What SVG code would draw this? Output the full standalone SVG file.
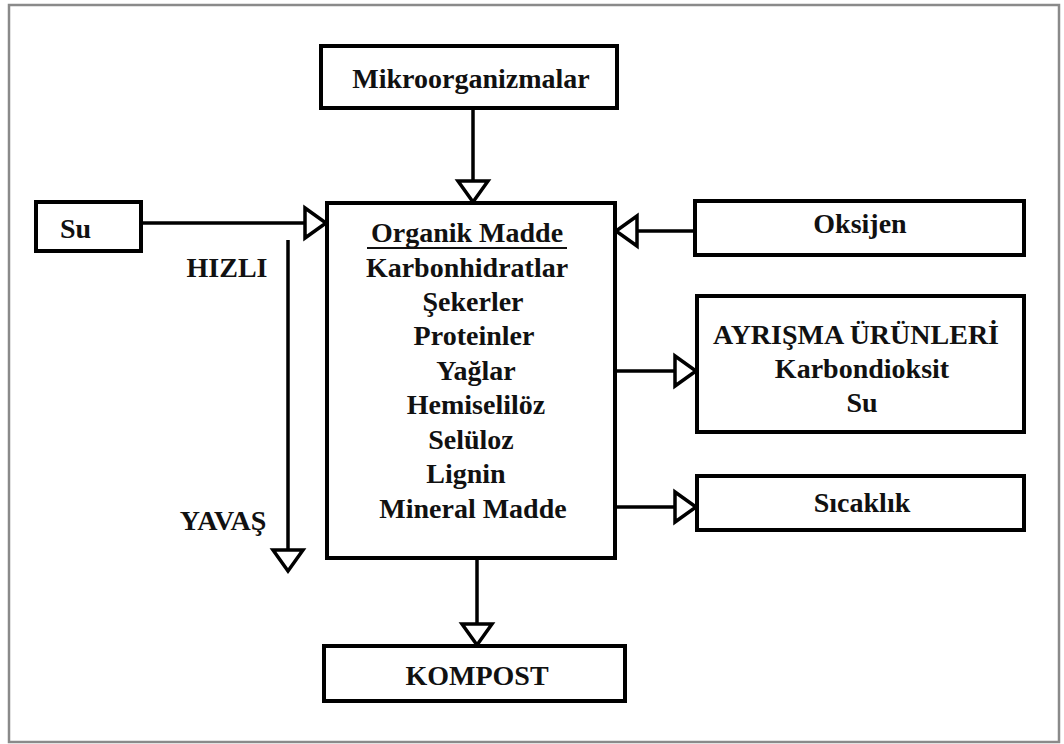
<svg xmlns="http://www.w3.org/2000/svg" width="1064" height="744" viewBox="0 0 1064 744">
<style>
.box{fill:#fff;stroke:#000;stroke-width:4}
.frame{fill:#fff;stroke:#8a8a8a;stroke-width:2.5}
.t{font-family:'Liberation Serif','Times New Roman','DejaVu Serif',serif;font-weight:700;font-size:28px;fill:#111;text-anchor:middle}
.ln{fill:none;stroke:#000;stroke-width:3.5}
</style>
<defs>
<marker id="ah" viewBox="-4 -20 30 40" markerWidth="30" markerHeight="40" markerUnits="userSpaceOnUse" refX="20" refY="0" orient="auto">
<path d="M0,-15 L21,0 L0,15 Z" fill="#fff" stroke="#000" stroke-width="3.5"/>
</marker>
</defs>
<rect class="frame" x="9" y="5" width="1050" height="737"/>
<g id="connectors">
<line class="ln" x1="141" y1="223" x2="325" y2="223" marker-end="url(#ah)"/>
<line class="ln" x1="473" y1="108" x2="473" y2="201" marker-end="url(#ah)"/>
<line class="ln" x1="695" y1="231" x2="617" y2="231" marker-end="url(#ah)"/>
<line class="ln" x1="615" y1="371" x2="695" y2="371" marker-end="url(#ah)"/>
<line class="ln" x1="615" y1="507" x2="695" y2="507" marker-end="url(#ah)"/>
<line class="ln" x1="477" y1="558" x2="477" y2="644" marker-end="url(#ah)"/>
<line class="ln" x1="288" y1="240" x2="288" y2="570" marker-end="url(#ah)"/>
</g>
<g id="mikroorganizmalar">
<rect class="box" x="321" y="46" width="296" height="62"/>
<text class="t" font-family="Liberation Serif" x="471" y="88">Mikroorganizmalar</text>
</g>
<g id="su">
<rect class="box" x="36" y="202" width="105" height="49"/>
<text class="t" x="60" y="238" style="text-anchor:start">Su</text>
</g>
<g id="organik-madde">
<rect class="box" x="327" y="203" width="288" height="355"/>
<text class="t" x="467" y="242">Organik Madde</text>
<line x1="367" y1="248" x2="567" y2="248" stroke="#111" stroke-width="2"/>
<text class="t" x="467" y="277">Karbonhidratlar</text>
<text class="t" x="473" y="311">Şekerler</text>
<text class="t" x="474" y="345">Proteinler</text>
<text class="t" x="476" y="380">Yağlar</text>
<text class="t" x="476" y="414">Hemiselilöz</text>
<text class="t" x="471" y="449">Selüloz</text>
<text class="t" x="466" y="483">Lignin</text>
<text class="t" x="473" y="518">Mineral Madde</text>
</g>
<g id="oksijen">
<rect class="box" x="695" y="201" width="329" height="54"/>
<text class="t" x="860" y="233">Oksijen</text>
</g>
<g id="ayrisma-urunleri">
<rect class="box" x="697" y="296" width="327" height="136"/>
<text class="t" x="856" y="344">AYRIŞMA ÜRÜNLERİ</text>
<text class="t" x="862" y="378">Karbondioksit</text>
<text class="t" x="862" y="412">Su</text>
</g>
<g id="sicaklik">
<rect class="box" x="697" y="476" width="327" height="54"/>
<text class="t" x="862" y="512">Sıcaklık</text>
</g>
<g id="kompost">
<rect class="box" x="324" y="646" width="301" height="55"/>
<text class="t" x="477" y="685">KOMPOST</text>
</g>
<g id="hiz-labels">
<text class="t" x="227" y="277">HIZLI</text>
<text class="t" x="223" y="530">YAVAŞ</text>
</g>
</svg>
